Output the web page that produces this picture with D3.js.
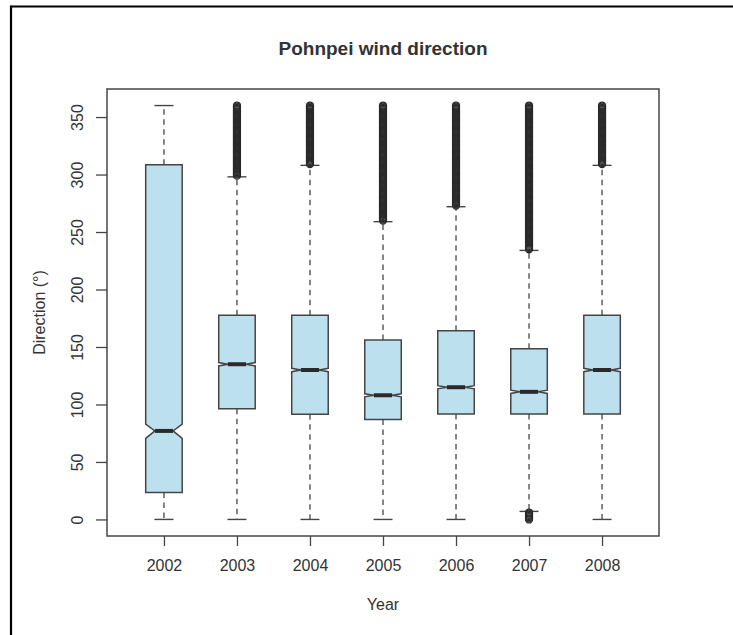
<!DOCTYPE html>
<html>
<head>
<meta charset="utf-8">
<script src="https://cdn.jsdelivr.net/npm/d3@7"></script>
<style>
  html, body { margin: 0; padding: 0; background: #fff; }
  svg { display: block; font-family: "Liberation Sans", Arial, Helvetica, sans-serif; }
</style>
</head>
<body>
<svg id="chart" width="733" height="635"></svg>
<script>
// Hourly wind direction at Pohnpei, summarised per year (degrees)
const years        = ["2002", "2003", "2004", "2005", "2006", "2007", "2008"];
const whiskerLow   = [0, 0, 0, 0, 0, 7, 0];
const lowerQuart   = [23.5, 96.3, 91.4, 87, 91.7, 91.7, 91.7];
const medians      = [77, 135, 130, 108, 115, 111, 130];
const upperQuart   = [308.5, 177.6, 177.6, 156, 164.2, 148.5, 177.6];
const whiskerHigh  = [360, 298, 308, 259, 272, 234, 308];
// notch limits (confidence interval around the median)
const notchLow     = [70.5, 133.5, 128.5, 106.7, 113.6, 109.6, 128.5];
const notchHigh    = [83, 136.5, 131.5, 109.3, 116.4, 112.4, 131.5];

// observations beyond the whiskers
const outliers2002 = [];
const outliers2003 = [299,300,301,302,303,304,305,306,307,308,309,310,311,312,313,314,315,316,317,318,319,320,321,322,323,324,325,326,327,328,329,330,331,332,333,334,335,336,337,338,339,340,341,342,343,344,345,346,347,348,349,350,351,352,353,354,355,356,357,358,359,360];
const outliers2004 = [309,310,311,312,313,314,315,316,317,318,319,320,321,322,323,324,325,326,327,328,329,330,331,332,333,334,335,336,337,338,339,340,341,342,343,344,345,346,347,348,349,350,351,352,353,354,355,356,357,358,359,360];
const outliers2005 = [260,261,262,263,264,265,266,267,268,269,270,271,272,273,274,275,276,277,278,279,280,281,282,283,284,285,286,287,288,289,290,291,292,293,294,295,296,297,298,299,300,301,302,303,304,305,306,307,308,309,310,311,312,313,314,315,316,317,318,319,320,321,322,323,324,325,326,327,328,329,330,331,332,333,334,335,336,337,338,339,340,341,342,343,344,345,346,347,348,349,350,351,352,353,354,355,356,357,358,359,360];
const outliers2006 = [273,274,275,276,277,278,279,280,281,282,283,284,285,286,287,288,289,290,291,292,293,294,295,296,297,298,299,300,301,302,303,304,305,306,307,308,309,310,311,312,313,314,315,316,317,318,319,320,321,322,323,324,325,326,327,328,329,330,331,332,333,334,335,336,337,338,339,340,341,342,343,344,345,346,347,348,349,350,351,352,353,354,355,356,357,358,359,360];
const outliers2007 = [0,1,2,3,4,5,6,235,236,237,238,239,240,241,242,243,244,245,246,247,248,249,250,251,252,253,254,255,256,257,258,259,260,261,262,263,264,265,266,267,268,269,270,271,272,273,274,275,276,277,278,279,280,281,282,283,284,285,286,287,288,289,290,291,292,293,294,295,296,297,298,299,300,301,302,303,304,305,306,307,308,309,310,311,312,313,314,315,316,317,318,319,320,321,322,323,324,325,326,327,328,329,330,331,332,333,334,335,336,337,338,339,340,341,342,343,344,345,346,347,348,349,350,351,352,353,354,355,356,357,358,359,360];
const outliers2008 = [309,310,311,312,313,314,315,316,317,318,319,320,321,322,323,324,325,326,327,328,329,330,331,332,333,334,335,336,337,338,339,340,341,342,343,344,345,346,347,348,349,350,351,352,353,354,355,356,357,358,359,360];
const outliers = [outliers2002, outliers2003, outliers2004, outliers2005, outliers2006, outliers2007, outliers2008];

const yTicks = [0, 50, 100, 150, 200, 250, 300, 350];
const titleText = "Pohnpei wind direction";
const xTitle = "Year";
const yTitle = "Direction (\u00b0)";

const boxes = years.map((y, i) => ({
  year: y, pos: i + 1,
  lo: whiskerLow[i], q1: lowerQuart[i], med: medians[i], q3: upperQuart[i], hi: whiskerHigh[i],
  cLo: notchLow[i], cHi: notchHigh[i], out: outliers[i]
}));

const svg = d3.select("#chart");
const plot = { left: 107, right: 659, top: 89, bottom: 536 };

// axis limits padded the way base graphics does (4% each side)
const x = d3.scaleLinear().domain([0.22, 7.78]).range([plot.left, plot.right]);
const y = d3.scaleLinear().domain([-14.4, 374.4]).range([plot.bottom, plot.top]);

const boxHalf = 0.25;      // half box width in category units
const stapleHalf = 0.13;   // half whisker cap width
const notchFrac = 0.5;

const lineCol = "#454545";
const darkCol = "#2a2a2a";
const fillCol = "#bde0ef";
const textCol = "#333";

// outer figure frame (top and left edges)
svg.append("line").attr("x1", 11).attr("x2", 733).attr("y1", 6.5).attr("y2", 6.5)
  .attr("stroke", "#000").attr("stroke-width", 2.2);
svg.append("line").attr("x1", 11).attr("x2", 11).attr("y1", 5.5).attr("y2", 635)
  .attr("stroke", "#000").attr("stroke-width", 2.2);

const g = svg.append("g");

// whiskers
const wh = g.append("g").selectAll("g").data(boxes).join("g");
wh.append("line")
  .attr("x1", d => x(d.pos)).attr("x2", d => x(d.pos))
  .attr("y1", d => y(d.q3)).attr("y2", d => y(d.hi))
  .attr("stroke", lineCol).attr("stroke-width", 1.3).attr("stroke-dasharray", "5.5,4.5");
wh.append("line")
  .attr("x1", d => x(d.pos)).attr("x2", d => x(d.pos))
  .attr("y1", d => y(d.q1)).attr("y2", d => y(d.lo))
  .attr("stroke", lineCol).attr("stroke-width", 1.3).attr("stroke-dasharray", "5.5,4.5");
// staples
wh.append("line")
  .attr("x1", d => x(d.pos - stapleHalf)).attr("x2", d => x(d.pos + stapleHalf))
  .attr("y1", d => y(d.hi)).attr("y2", d => y(d.hi))
  .attr("stroke", lineCol).attr("stroke-width", 1.4);
wh.append("line")
  .attr("x1", d => x(d.pos - stapleHalf)).attr("x2", d => x(d.pos + stapleHalf))
  .attr("y1", d => y(d.lo)).attr("y2", d => y(d.lo))
  .attr("stroke", lineCol).attr("stroke-width", 1.4);

// notched boxes
function notchPath(d) {
  const xs = [-1, 1, 1, notchFrac, 1, 1, -1, -1, -notchFrac, -1].map(k => x(d.pos + k * boxHalf));
  const ys = [d.q1, d.q1, d.cLo, d.med, d.cHi, d.q3, d.q3, d.cHi, d.med, d.cLo].map(v => y(v));
  return "M" + xs.map((v, i) => v + "," + ys[i]).join("L") + "Z";
}
g.append("g").selectAll("path").data(boxes).join("path")
  .attr("d", notchPath)
  .attr("fill", fillCol).attr("stroke", lineCol).attr("stroke-width", 1.5)
  .attr("stroke-linejoin", "miter");

// medians
g.append("g").selectAll("line").data(boxes).join("line")
  .attr("x1", d => x(d.pos - boxHalf * notchFrac)).attr("x2", d => x(d.pos + boxHalf * notchFrac))
  .attr("y1", d => y(d.med)).attr("y2", d => y(d.med))
  .attr("stroke", darkCol).attr("stroke-width", 4);

// outlying points
const pts = boxes.flatMap(d => d.out.map(v => ({ pos: d.pos, v })));
g.append("g").selectAll("circle").data(pts).join("circle")
  .attr("cx", d => x(d.pos)).attr("cy", d => y(d.v)).attr("r", 3.5)
  .attr("fill", "none").attr("stroke", darkCol).attr("stroke-width", 1.3);

// plot frame
svg.append("rect")
  .attr("x", plot.left).attr("y", plot.top)
  .attr("width", plot.right - plot.left).attr("height", plot.bottom - plot.top)
  .attr("fill", "none").attr("stroke", lineCol).attr("stroke-width", 1.5);

// y axis
const yAxis = svg.append("g").attr("transform", `translate(${plot.left},0)`)
  .call(d3.axisLeft(y).tickValues(yTicks).tickSize(11).tickFormat(d3.format("d")));
yAxis.select(".domain").remove();
yAxis.selectAll(".tick line").attr("stroke", lineCol).attr("stroke-width", 1.3);
yAxis.selectAll(".tick text")
  .attr("x", 0).attr("y", -24).attr("dy", 0)
  .attr("transform", "rotate(-90)")
  .attr("text-anchor", "middle")
  .attr("fill", textCol).style("font-size", "16px")
  .style("font-family", "'Liberation Sans', Arial, sans-serif");

// x axis
const xAxis = svg.append("g").attr("transform", `translate(0,${plot.bottom})`)
  .call(d3.axisBottom(x).tickValues(boxes.map(d => d.pos)).tickSize(10)
    .tickFormat((d, i) => years[i]));
xAxis.select(".domain").remove();
xAxis.selectAll(".tick line").attr("stroke", lineCol).attr("stroke-width", 1.3);
xAxis.selectAll(".tick text")
  .attr("y", 35).attr("dy", 0)
  .attr("fill", textCol).style("font-size", "16px")
  .style("font-family", "'Liberation Sans', Arial, sans-serif");

// titles
svg.append("text")
  .attr("x", (plot.left + plot.right) / 2).attr("y", 55)
  .attr("text-anchor", "middle").attr("fill", textCol)
  .style("font-size", "19px").style("font-weight", "bold")
  .text(titleText);

svg.append("text")
  .attr("x", (plot.left + plot.right) / 2).attr("y", 610)
  .attr("text-anchor", "middle").attr("fill", textCol)
  .style("font-size", "16px")
  .text(xTitle);

svg.append("text")
  .attr("transform", `translate(45,${(plot.top + plot.bottom) / 2}) rotate(-90)`)
  .attr("text-anchor", "middle").attr("fill", textCol)
  .style("font-size", "16px")
  .text(yTitle);
</script>
</body>
</html>
